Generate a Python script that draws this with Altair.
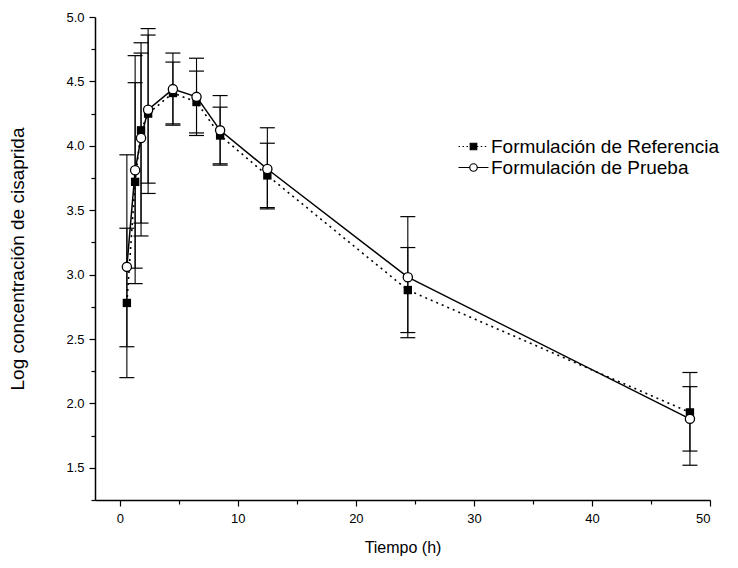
import altair as alt
import pandas as pd

# ---- data ----
series_names = ["Formulación de Referencia", "Formulación de Prueba"]
times = [0.6, 1.3, 1.8, 2.4, 4.5, 6.5, 8.5, 12.5, 24.4, 48.3]
ref_vals = [2.78, 3.72, 4.12, 4.25, 4.41, 4.34, 4.08, 3.77, 2.88, 1.93]
ref_lo = [2.20, 2.93, 3.30, 3.63, 4.17, 4.10, 3.86, 3.52, 2.55, 1.63]
ref_hi = [3.36, 4.49, 4.80, 4.86, 4.65, 4.58, 4.30, 4.02, 3.21, 2.13]
test_vals = [3.06, 3.81, 4.06, 4.28, 4.44, 4.38, 4.12, 3.82, 2.98, 1.88]
test_lo = [2.44, 3.05, 3.40, 3.71, 4.16, 4.08, 3.85, 3.51, 2.51, 1.52]
test_hi = [3.93, 4.70, 4.72, 4.91, 4.72, 4.68, 4.39, 4.14, 3.45, 2.24]
x_major = [0, 10, 20, 30, 40, 50]
x_minor = [5, 15, 25, 35, 45]
y_major = [1.5, 2.0, 2.5, 3.0, 3.5, 4.0, 4.5, 5.0]
y_minor = [1.25, 1.75, 2.25, 2.75, 3.25, 3.75, 4.25, 4.75]

rows = []
for s, vals, lo, hi in [(series_names[0], ref_vals, ref_lo, ref_hi),
                        (series_names[1], test_vals, test_lo, test_hi)]:
    for t, v, l, h in zip(times, vals, lo, hi):
        rows.append(dict(t=t, val=v, lo=l, hi=h, series=s))
df = pd.DataFrame(rows)

FONT = "Liberation Sans"
xs = alt.Scale(domain=[-2.1, 50], nice=False, zero=False)
ys = alt.Scale(domain=[1.25, 5.0], nice=False, zero=False)

common_axis = dict(grid=False, domainColor="black", tickColor="black",
                   labelColor="black", titleColor="black", labelFont=FONT,
                   titleFont=FONT, titleFontWeight="normal", tickWidth=1.2,
                   domainWidth=1.5)

ax_x_major = alt.Axis(values=x_major, title="Tiempo (h)", orient="bottom",
                      tickSize=6, labelFontSize=13, titleFontSize=16,
                      labelPadding=6, titlePadding=14, **common_axis)
ax_y_major = alt.Axis(values=y_major, title="Log concentración de cisaprida",
                      orient="left", format=".1f", tickSize=6, labelFontSize=13,
                      titleFontSize=19, labelPadding=5, titlePadding=38,
                      **common_axis)
ax_x_minor = alt.Axis(values=x_minor, title=None, orient="bottom", labels=False,
                      domain=False, tickSize=4, grid=False, tickColor="black",
                      tickWidth=1.2)
ax_y_minor = alt.Axis(values=y_minor, title=None, orient="left", labels=False,
                      domain=False, tickSize=4, grid=False, tickColor="black",
                      tickWidth=1.2)

# legend symbols (line + marker) as custom paths
def dotted(a, b, dot=0.3, gap=0.5):
    parts = []
    p = a
    while p < b:
        q = min(p + dot, b)
        parts.append(f"M{p:.2f},0H{q:.2f}")
        p += dot + gap
    return "".join(parts)

ref_path = (dotted(-3.0, -0.65) + dotted(0.65, 3.0) +
            "M-0.65,-0.65H0.65V0.65H-0.65Z")
test_path = ("M-3,0H-0.75M0.75,0H3"
             "M0.75,0A0.75,0.75 0 1,1 -0.75,0A0.75,0.75 0 1,1 0.75,0Z")

base = alt.Chart(df)

bars = base.mark_rule(color="black", strokeWidth=1.1).encode(
    x=alt.X("t:Q", scale=xs, axis=ax_x_major),
    y=alt.Y("lo:Q", scale=ys, axis=ax_y_major),
    y2="hi:Q",
)
caps_hi = base.mark_tick(orient="horizontal", size=15, thickness=1.2,
                         color="black", opacity=1).encode(
    x=alt.X("t:Q", scale=xs, axis=ax_x_minor),
    y=alt.Y("hi:Q", scale=ys, axis=ax_y_minor),
)
caps_lo = base.mark_tick(orient="horizontal", size=15, thickness=1.2,
                         color="black", opacity=1).encode(
    x=alt.X("t:Q", scale=xs, axis=None),
    y=alt.Y("lo:Q", scale=ys, axis=None),
)
line_ref = base.transform_filter(alt.datum.series == series_names[0]).mark_line(
    color="black", strokeDash=[2, 4], strokeWidth=1.6).encode(
    x=alt.X("t:Q", scale=xs, axis=None),
    y=alt.Y("val:Q", scale=ys, axis=None),
    order="t:Q",
)
line_test = base.transform_filter(alt.datum.series == series_names[1]).mark_line(
    color="black", strokeWidth=1.5).encode(
    x=alt.X("t:Q", scale=xs, axis=None),
    y=alt.Y("val:Q", scale=ys, axis=None),
    order="t:Q",
)
pts_ref = base.transform_filter(alt.datum.series == series_names[0]).mark_square(
    color="black", size=70, opacity=1).encode(
    x=alt.X("t:Q", scale=xs, axis=None),
    y=alt.Y("val:Q", scale=ys, axis=None),
)
pts_test = base.transform_filter(alt.datum.series == series_names[1]).mark_point(
    shape="circle", filled=True, fill="white", stroke="black", strokeWidth=1.3,
    size=85, opacity=1).encode(
    x=alt.X("t:Q", scale=xs, axis=None),
    y=alt.Y("val:Q", scale=ys, axis=None),
)

leg = alt.Legend(title=None, orient="none", legendX=369, legendY=120,
                 labelFont=FONT, labelFontSize=19, labelColor="black",
                 labelLimit=0, symbolSize=100, labelOffset=8, rowPadding=1,
                 padding=0, symbolStrokeWidth=1.2, symbolStrokeColor="black")
legend_layer = base.transform_filter("false").mark_point(
    filled=True, strokeWidth=1.2, size=100, opacity=1).encode(
    x=alt.X("t:Q", scale=xs, axis=None),
    y=alt.Y("val:Q", scale=ys, axis=None),
    shape=alt.Shape("series:N", scale=alt.Scale(domain=series_names,
                    range=[ref_path, test_path]), legend=leg),
    fill=alt.Fill("series:N", scale=alt.Scale(domain=series_names,
                  range=["black", "white"]), legend=leg),
    stroke=alt.Stroke("series:N", scale=alt.Scale(domain=series_names,
                      range=["black", "black"]), legend=leg),
)

chart = alt.layer(
    bars, caps_hi, caps_lo, line_ref, line_test, pts_ref, pts_test, legend_layer
).resolve_axis(x="independent", y="independent").properties(
    width=615, height=483,
    autosize="none",
    padding={"left": 87, "top": 9, "right": 20, "bottom": 60},
).configure_view(stroke=None)

chart.save("out.html", embed_options={"renderer": "svg", "actions": False})
